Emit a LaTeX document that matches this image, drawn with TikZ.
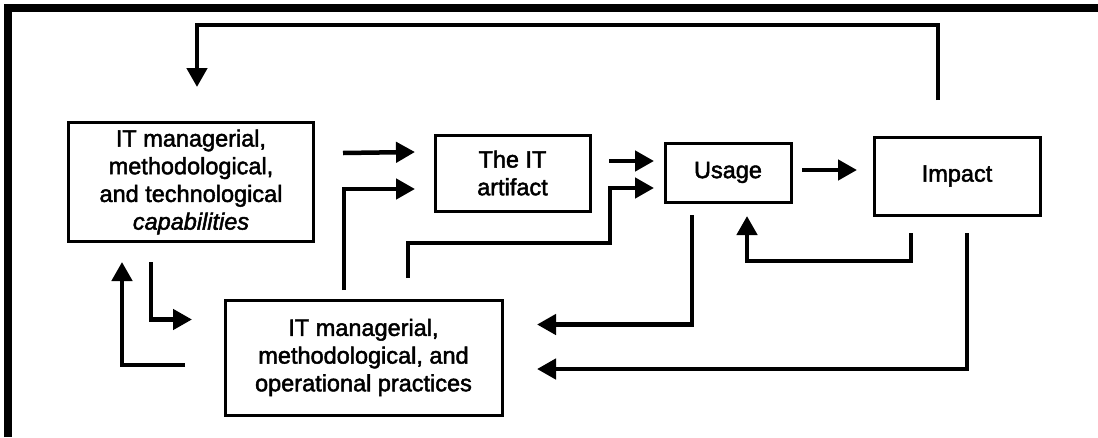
\documentclass[tikz,border=0pt]{standalone}
\usepackage{fontspec}
\setmainfont{Liberation Sans}[FakeBold=2]
\usetikzlibrary{arrows.meta}
\begin{document}
\begin{tikzpicture}[x=1pt,y=-1pt,
  box/.style={draw,line width=3pt,inner sep=0pt,align=center,font=\fontsize{23.5}{27.7}\selectfont},
  conn/.style={line width=4.5pt,-{Triangle[width=20pt,length=19pt]}},
  frame/.style={line width=8pt}]
\useasboundingbox (0,0) rectangle (1098,437);
\draw[frame] (8,437) -- (8,8) -- (1098,8);

% boxes
\node[box,minimum width=245pt,minimum height=119pt] (cap) at (191,182)
  {IT managerial,\\methodological,\\and technological\\\textit{capabilities}};
\node[box,minimum width=155pt,minimum height=76pt] (art) at (512.5,173) {The IT\\artifact};
\node[box,minimum width=126pt,minimum height=59pt] (usage) at (728,172.5) {Usage};
\node[box,minimum width=166pt,minimum height=78pt] (impact) at (957,176) {Impact};
\node[box,minimum width=277pt,minimum height=115pt] (prac) at (363.5,357.5)
  {IT managerial,\\methodological, and\\operational practices};

% free ends of connectors
\coordinate (impTop) at (938,100);
\coordinate (capTop) at (197,87);
\coordinate (capOut) at (343,153);
\coordinate (artInU) at (415,152);
\coordinate (pracTopL) at (344,290);
\coordinate (artInL) at (415,189);
\coordinate (artOut) at (609,161);
\coordinate (usInU) at (654,161);
\coordinate (pracTopR) at (408,278);
\coordinate (usInL) at (654,188);
\coordinate (usOut) at (802,170);
\coordinate (impIn) at (857,170);
\coordinate (usBot) at (692,215);
\coordinate (pracInU) at (537,324.5);
\coordinate (impBotL) at (911,233);
\coordinate (usIn) at (747,216);
\coordinate (impBotR) at (967,233);
\coordinate (pracInL) at (537,369);
\coordinate (capBotR) at (151,262);
\coordinate (pracInW) at (192,319.5);
\coordinate (pracOutW) at (185,365);
\coordinate (capIn) at (122,262);

% connectors
\draw[conn] (impTop) |- (197,25) -- (capTop);
\draw[conn] (capOut) -- (artInU);
\draw[conn] (pracTopL) |- (artInL);
\draw[conn] (artOut) -- (usInU);
\draw[conn] (pracTopR) -- (408,243) -| (610,188) -- (usInL);
\draw[conn] (usOut) -- (impIn);
\draw[conn] (usBot) |- (pracInU);
\draw[conn] (impBotL) -- (911,261) -| (usIn);
\draw[conn] (impBotR) |- (pracInL);
\draw[conn] (capBotR) |- (pracInW);
\draw[conn] (pracOutW) -| (capIn);
\end{tikzpicture}
\end{document}
